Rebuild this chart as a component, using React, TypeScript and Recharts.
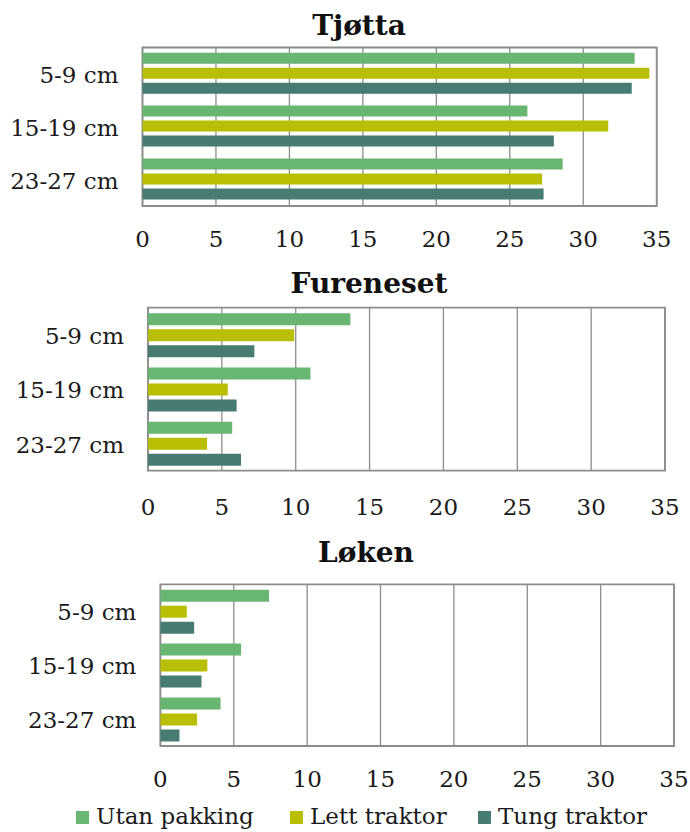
import { Bar, BarChart, CartesianGrid, ReferenceArea, XAxis, YAxis } from "recharts";

const depths = ["5-9 cm", "15-19 cm", "23-27 cm"];
const xTicks = [0, 5, 10, 15, 20, 25, 30, 35];

const seriesKeys = ["utan", "lett", "tung"];
const seriesNames = ["Utan pakking", "Lett traktor", "Tung traktor"];
const seriesColors = ["#69b673", "#b8bf02", "#467c72"];

// Tjøtta
const tjottaUtan = [33.5, 26.2, 28.6];
const tjottaLett = [34.5, 31.7, 27.2];
const tjottaTung = [33.3, 28.0, 27.3];

// Fureneset
const fureUtan = [13.7, 11.0, 5.7];
const fureLett = [9.9, 5.4, 4.0];
const fureTung = [7.2, 6.0, 6.3];

// Løken
const lokenUtan = [7.4, 5.5, 4.1];
const lokenLett = [1.8, 3.2, 2.5];
const lokenTung = [2.3, 2.8, 1.3];

const LABEL_FONT = "'DejaVu Serif', serif";
const TITLE_FONT = "'DejaVu Serif', serif";
const GRID = "#8c8c8c";

const toRows = (utan: number[], lett: number[], tung: number[]) =>
  depths.map((depth, i) => ({ depth, utan: utan[i], lett: lett[i], tung: tung[i] }));

type Frame = {
  top: number;
  height: number;
  plotTop: number;
  plotBottom: number;
  plotLeft: number;
  plotRight: number;
  tickBaseline: number;
};

const sites = [
  {
    title: "Tjøtta",
    titleX: 359,
    titleY: 35,
    rows: toRows(tjottaUtan, tjottaLett, tjottaTung),
    frame: { top: 0, height: 262, plotTop: 47.5, plotBottom: 206, plotLeft: 142.5, plotRight: 656.7, tickBaseline: 41 },
  },
  {
    title: "Fureneset",
    titleX: 369,
    titleY: 293,
    rows: toRows(fureUtan, fureLett, fureTung),
    frame: { top: 262, height: 265, plotTop: 307.7, plotBottom: 470.7, plotLeft: 148, plotRight: 665, tickBaseline: 44 },
  },
  {
    title: "Løken",
    titleX: 366,
    titleY: 562,
    rows: toRows(lokenUtan, lokenLett, lokenTung),
    frame: { top: 527, height: 270, plotTop: 584.3, plotBottom: 746, plotLeft: 160.4, plotRight: 674, tickBaseline: 41 },
  },
];

const legendX = [76, 290, 478];

function SiteChart({ rows, frame }: { rows: ReturnType<typeof toRows>; frame: Frame }) {
  const { top, height, plotTop, plotBottom, plotLeft, plotRight, tickBaseline } = frame;
  const localBottom = plotBottom - top;
  const xAxisHeight = 50;

  return (
    <div style={{ position: "absolute", left: 0, top, width: 690, height }}>
      <BarChart
        width={690}
        height={height}
        data={rows}
        layout="vertical"
        barCategoryGap="10%"
        barGap={4}
        margin={{ top: plotTop - top, right: 690 - plotRight, bottom: height - localBottom - xAxisHeight, left: 0 }}
      >
        <CartesianGrid horizontal={false} stroke={GRID} strokeWidth={1.3} />
        <XAxis
          type="number"
          domain={[0, 35]}
          ticks={xTicks}
          interval={0}
          height={xAxisHeight}
          axisLine={false}
          tickLine={false}
          tick={(p: any) => (
            <text
              x={p.x}
              y={localBottom + tickBaseline}
              textAnchor="middle"
              fontFamily={LABEL_FONT}
              fontSize={23}
              fill="#1a1a1a"
            >
              {p.payload.value}
            </text>
          )}
        />
        <YAxis
          type="category"
          dataKey="depth"
          width={plotLeft}
          axisLine={false}
          tickLine={false}
          tick={(p: any) => (
            <text
              x={plotLeft - 24}
              y={p.y}
              dy={9}
              textAnchor="end"
              fontFamily={LABEL_FONT}
              fontSize={23}
              fill="#1a1a1a"
            >
              {p.payload.value}
            </text>
          )}
        />
        {seriesKeys.map((key, i) => (
          <Bar key={key} dataKey={key} name={seriesNames[i]} fill={seriesColors[i]} isAnimationActive={false} />
        ))}
        <ReferenceArea x1={0} x2={35} fill="none" stroke={GRID} strokeWidth={1.8} ifOverflow="visible" />
      </BarChart>
    </div>
  );
}

export default function App() {
  return (
    <div style={{ position: "absolute", left: 0, top: 0, width: 690, height: 832, background: "#fff" }}>
      {sites.map((s) => (
        <SiteChart key={s.title} rows={s.rows} frame={s.frame} />
      ))}
      <svg width={690} height={832} style={{ position: "absolute", left: 0, top: 0, pointerEvents: "none" }}>
        {sites.map((s) => (
          <text
            key={s.title}
            x={s.titleX}
            y={s.titleY}
            textAnchor="middle"
            fontFamily={TITLE_FONT}
            fontWeight="bold"
            fontSize={28}
            fill="#111"
          >
            {s.title}
          </text>
        ))}
        {seriesNames.map((name, i) => (
          <g key={name}>
            <rect x={legendX[i]} y={811} width={13} height={13} fill={seriesColors[i]} />
            <text x={legendX[i] + 20} y={824} fontFamily={LABEL_FONT} fontSize={23} fill="#1a1a1a">
              {name}
            </text>
          </g>
        ))}
      </svg>
    </div>
  );
}
